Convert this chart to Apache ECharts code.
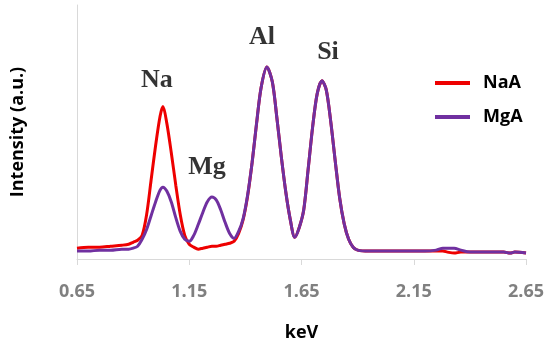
<!DOCTYPE html>
<html><head><meta charset="utf-8">
<script src="https://cdn.jsdelivr.net/npm/echarts@6/dist/echarts.min.js"></script>
<style>html,body{margin:0;padding:0;background:#fff}#c{width:550px;height:347px}</style>
</head><body><div id="c"></div>
<script>
const keV = [0.65,0.70,0.75,0.80,0.85,0.88,0.90,0.92,0.94,0.96,0.98,1.00,1.02,1.033,1.05,1.07,1.09,1.11,1.13,1.15,1.17,1.19,1.21,1.23,1.251,1.27,1.29,1.31,1.33,1.35,1.37,1.39,1.41,1.43,1.45,1.47,1.496,1.52,1.54,1.56,1.58,1.60,1.62,1.64,1.66,1.68,1.70,1.72,1.741,1.76,1.78,1.80,1.82,1.84,1.86,1.88,1.90,1.95,2.00,2.05,2.10,2.15,2.20,2.25,2.28,2.30,2.33,2.36,2.40,2.45,2.50,2.55,2.58,2.60,2.65];
const naA = [11,12,12,13,14,15,17,19,24,45,80,115,145,155,138,108,75,45,24,15,12,10,11,12,13,13,14,15,16,18,26,40,64,98,138,174,195,180,144,104,68,40,22,32,50,92,135,168,181,172,140,100,62,36,20,12,9,8,8,8,8,8,8,8,8,7,6,7,7,7,7,7,6,7,6];
const mgA = [8,8,9,9,10,10,11,13,20,30,44,58,70,73,69,58,42,28,20,18,24,35,47,58,63,60,50,37,26,21,28,41,65,98,138,174,195,180,144,104,68,40,22,32,50,92,135,168,181,172,140,100,62,36,20,12,9,8,8,8,8,8,8,9,11,11,11,9,7,7,7,7,6,7,6];
const tickValues = [0.65,1.15,1.65,2.15,2.65];
const tickLabels = ['0.65','1.15','1.65','2.15','2.65'];
const elementNames = ['Na','Mg','Al','Si'];
const elementKeV = [1.006,1.229,1.474,1.768];
const elementY = [182,93,225,210];

const chart = echarts.init(document.getElementById('c'));
const pairs = arr => keV.map((x,i)=>[x,arr[i]]);
chart.setOption({
  animation:false,
  grid:{left:77,right:24,top:5,bottom:84},
  legend:{
    data:['NaA','MgA'], orient:'vertical', left:430, top:68,
    icon:'rect', itemWidth:35, itemHeight:4, itemGap:14,
    textStyle:{fontFamily:'Open Sans',fontWeight:'bold',fontSize:18,color:'#000',lineHeight:20,padding:[0,0,0,8]}
  },
  xAxis:{
    type:'value', min:0.65, max:2.65,
    name:'keV', nameLocation:'middle', nameGap:65,
    nameTextStyle:{fontFamily:'Open Sans',fontWeight:'bold',fontSize:18,color:'#000'},
    axisLine:{show:true,lineStyle:{color:'#d9d9d9',width:1}},
    axisTick:{show:true,customValues:tickValues,length:6,lineStyle:{color:'#d9d9d9'}},
    axisLabel:{customValues:tickValues,margin:24,
      formatter:v=>{const i=tickValues.findIndex(t=>Math.abs(t-v)<1e-6);return i>=0?tickLabels[i]:'';},
      fontFamily:'Open Sans',fontWeight:'bold',fontSize:18,color:'#808080'},
    splitLine:{show:false}
  },
  yAxis:{
    type:'value', min:0, max:258,
    name:'Intensity (a.u.)', nameLocation:'middle', nameGap:50, nameRotate:90,
    nameTextStyle:{fontFamily:'Open Sans',fontWeight:'bold',fontSize:18,color:'#000'},
    axisLine:{show:true,lineStyle:{color:'#d9d9d9',width:1}},
    axisTick:{show:false}, axisLabel:{show:false}, splitLine:{show:false}
  },
  series:[
    {name:'NaA',type:'line',data:pairs(naA),smooth:0.3,showSymbol:false,lineStyle:{color:'#ee0000',width:3},itemStyle:{color:'#ee0000'}},
    {name:'MgA',type:'line',data:pairs(mgA),smooth:0.3,showSymbol:false,lineStyle:{color:'#7030a0',width:3},itemStyle:{color:'#7030a0'}},
    {name:'labels',type:'scatter',symbolSize:0,silent:true,
      data:elementNames.map((n,i)=>({value:[elementKeV[i],elementY[i]],name:n})),
      label:{show:true,position:'inside',formatter:p=>p.name,fontFamily:'Liberation Serif',fontWeight:'bold',fontSize:26,color:'#000'}}
  ]
});
</script></body></html>
